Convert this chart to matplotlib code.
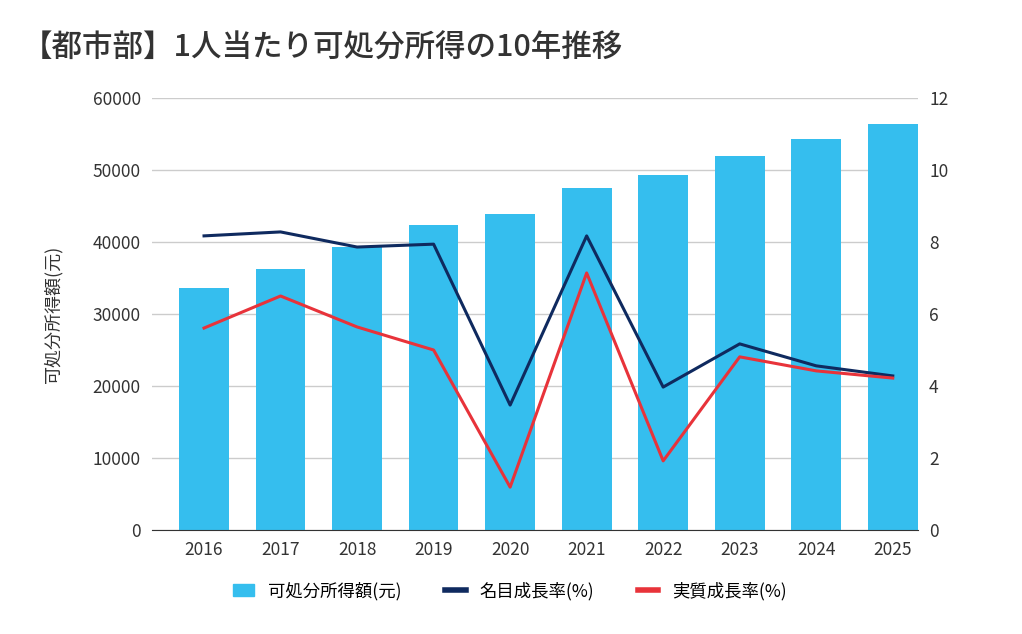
import matplotlib.pyplot as plt
from matplotlib.patches import Patch
from matplotlib.lines import Line2D

plt.rcParams['font.family'] = ['Noto Sans CJK JP', 'DejaVu Sans']

years = ['2016', '2017', '2018', '2019', '2020', '2021', '2022', '2023', '2024', '2025']
income = [33600, 36250, 39300, 42350, 43900, 47500, 49300, 51950, 54300, 56400]
nominal = [8.17, 8.28, 7.86, 7.94, 3.47, 8.17, 3.97, 5.17, 4.56, 4.28]
real = [5.61, 6.5, 5.64, 5.0, 1.19, 7.14, 1.92, 4.81, 4.42, 4.22]

bar_c = '#35BEEE'
nom_c = '#0F2A5F'
real_c = '#E8333A'

fig = plt.figure(figsize=(10.22, 6.34), dpi=100)
ax = fig.add_axes([152/1022, 1-530/634, 766/1022, 432/634])
x = range(len(years))
ax.bar(x, income, width=0.65, color=bar_c, zorder=2)
ax.set_ylim(0, 60000)
ax.set_yticks(range(0, 60001, 10000))
ax.set_xlim(-0.68, len(years) - 0.67)
ax.set_xticks(list(x))
ax.set_xticklabels(years)
ax.grid(axis='y', color='#cccccc', linewidth=1, zorder=0)
ax.set_ylabel('可処分所得額(元)', fontsize=13, color='#333333', labelpad=22)
for s in ['top', 'right', 'left']:
    ax.spines[s].set_visible(False)
ax.spines['bottom'].set_color('#333333')
ax.tick_params(length=0, labelsize=12.5, colors='#333333', pad=8)

ax2 = ax.twinx()
ax2.plot(x, nominal, color=nom_c, linewidth=2.2)
ax2.plot(x, real, color=real_c, linewidth=2.2)
ax2.set_ylim(0, 12)
ax2.set_yticks(range(0, 13, 2))
for s in ['top', 'right', 'left', 'bottom']:
    ax2.spines[s].set_visible(False)
ax2.tick_params(length=0, labelsize=12.5, colors='#333333', pad=8)

fig.text(22/1022, 1-48/634, '【都市部】1人当たり可処分所得の10年推移', fontsize=22,
         color='#333333', va='center', fontweight='medium')

handles = [Patch(color=bar_c), Line2D([], [], color=nom_c, linewidth=4),
           Line2D([], [], color=real_c, linewidth=4)]
labels = ['可処分所得額(元)', '名目成長率(%)', '実質成長率(%)']
fig.legend(handles, labels, loc='center', bbox_to_anchor=(510/1022, 1-591/634),
           ncol=3, frameon=False, fontsize=12.5, handlelength=1.2, columnspacing=2.5)

fig.savefig('out.png', dpi=100, facecolor='white')
